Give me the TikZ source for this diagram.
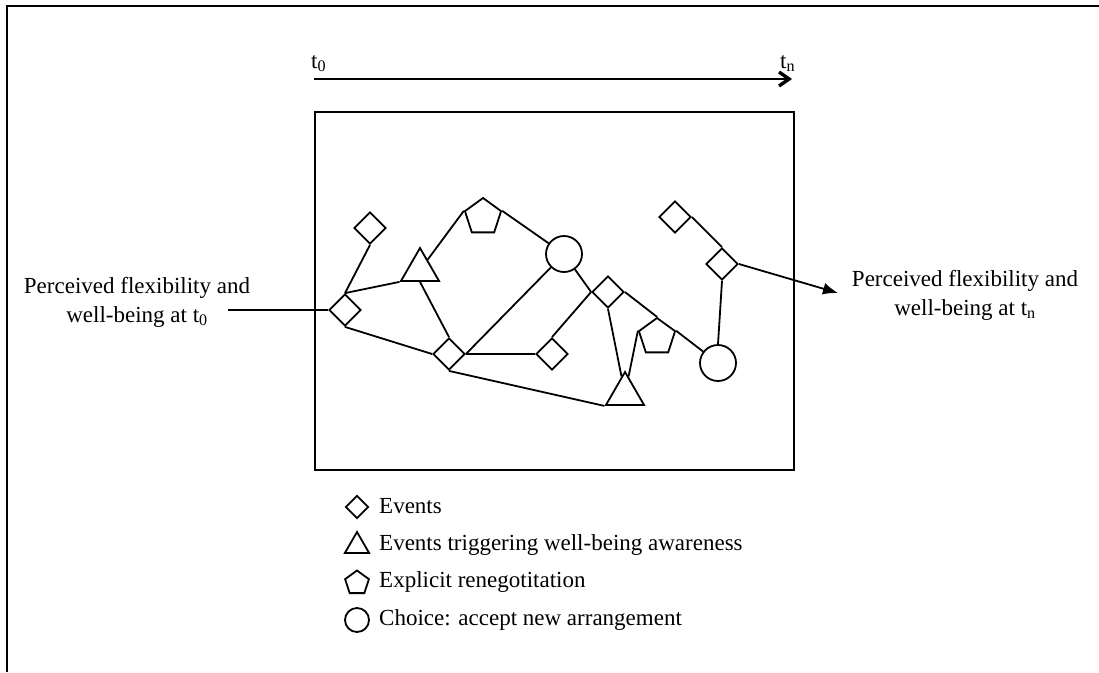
\documentclass[tikz,border=0pt]{standalone}
\usepackage{fontspec}
\setmainfont{Liberation Serif}
\usetikzlibrary{shapes.geometric,arrows.meta}

\tikzset{
  ln/.style={line width=1.8pt, line join=miter},
  ev/.style={diamond, draw, ln, inner sep=0pt, minimum width=32pt, minimum height=32pt},
  trig/.style={regular polygon, regular polygon sides=3, draw, ln, inner sep=0pt, minimum size=44pt},
  reneg/.style={regular polygon, regular polygon sides=5, draw, ln, inner sep=0pt, minimum size=38pt},
  choice/.style={circle, draw, ln, inner sep=0pt, minimum size=36pt},
  lev/.style={ev, minimum width=23pt, minimum height=23pt},
  ltrig/.style={trig, minimum size=28pt},
  lreneg/.style={reneg, minimum size=25pt},
  lchoice/.style={choice, minimum size=24pt},
  txt/.style={font=\fontsize{23}{29}\selectfont, inner sep=0pt},
  lab/.style={txt, align=center},
}

\begin{document}
\begin{tikzpicture}[x=1pt, y=-1pt]
\useasboundingbox (0,0) rectangle (1099,672);

% outer frame (top and left edges)
\draw[ln] (7,672) -- (7,6) -- (1099,6);

% time axis
\coordinate (tstart) at (314,79);
\coordinate (tend) at (792,79);
\draw[ln, -{Straight Barb[length=10pt, width=14pt, line width=3.4pt]}] (tstart) -- (tend);
\node[txt, anchor=base west] (t0) at (311,68) {t\textsubscript{0}};
\node[txt, anchor=base west] (tn) at (780,68) {t\textsubscript{n}};

% process box
\node[draw, ln, inner sep=0pt, minimum width=479pt, minimum height=358pt, anchor=north west] (box) at (314,111) {};

% process nodes
\node[ev] (d1) at (370,228) {};
\node[ev] (d2) at (345,310) {};
\node[trig] (t1) at (420,270) {};
\node[reneg] (p1) at (483,217) {};
\node[ev] (d3) at (449,354) {};
\node[choice] (c1) at (564,254) {};
\node[ev] (d4) at (608,292) {};
\node[ev] (d5) at (552,354) {};
\node[reneg] (p2) at (657,337) {};
\node[trig] (t2) at (625,394) {};
\node[ev] (d6) at (675,217) {};
\node[ev] (d7) at (722,264) {};
\node[choice] (c2) at (718,363) {};

% connections
\draw[ln] (d1.south) -- (d2.north);
\draw[ln] (d2.north) -- (t1.corner 2);
\draw[ln] (d2.south) -- (d3.west);
\draw[ln] (t1) -- (p1.corner 2);
\draw[ln] (t1.south) -- (d3.north);
\draw[ln] (p1.corner 5) -- (c1);
\draw[ln] (c1) -- (d3.east);
\draw[ln] (d3.east) -- (d5.west);
\draw[ln] (d3.south) -- (t2.corner 2);
\draw[ln] (d5.north) -- (d4.west);
\draw[ln] (c1) -- (d4.west);
\draw[ln] (d4.south) -- (t2);
\draw[ln] (d4.east) -- (p2.corner 1);
\draw[ln] (p2.corner 5) -- (c2);
\draw[ln] (p2.corner 2) -- (t2);
\draw[ln] (c2.north) -- (d7.south);
\draw[ln] (d6.east) -- (d7.north);

% input and output
\node[lab, anchor=base] (in) at (137,322) {Perceived flexibility and\\well-being at t\textsubscript{0}};
\coordinate (inend) at (228,310);
\draw[ln] (inend) -- (d2.west);
\node[lab, anchor=base] (out) at (965,315) {Perceived flexibility and\\well-being at t\textsubscript{n}};
\coordinate (outtip) at (838,293);
\draw[ln, -{Latex[length=15pt, width=12pt]}] (d7.east) -- (outtip);

% legend
\node[lev] (k1) at (357,507) {};
\node[txt, anchor=base west] (k1t) at (379,513) {Events};
\node[ltrig] (k2) at (357,546) {};
\node[txt, anchor=base west] (k2t) at (379,550) {Events triggering well-being awareness};
\node[lreneg] (k3) at (357,583) {};
\node[txt, anchor=base west] (k3t) at (379,587) {Explicit renegotitation};
\node[lchoice] (k4) at (357,620) {};
\node[txt, anchor=base west] (k4t) at (379,625) {Choice: accept new arrangement};
\end{tikzpicture}
\end{document}
